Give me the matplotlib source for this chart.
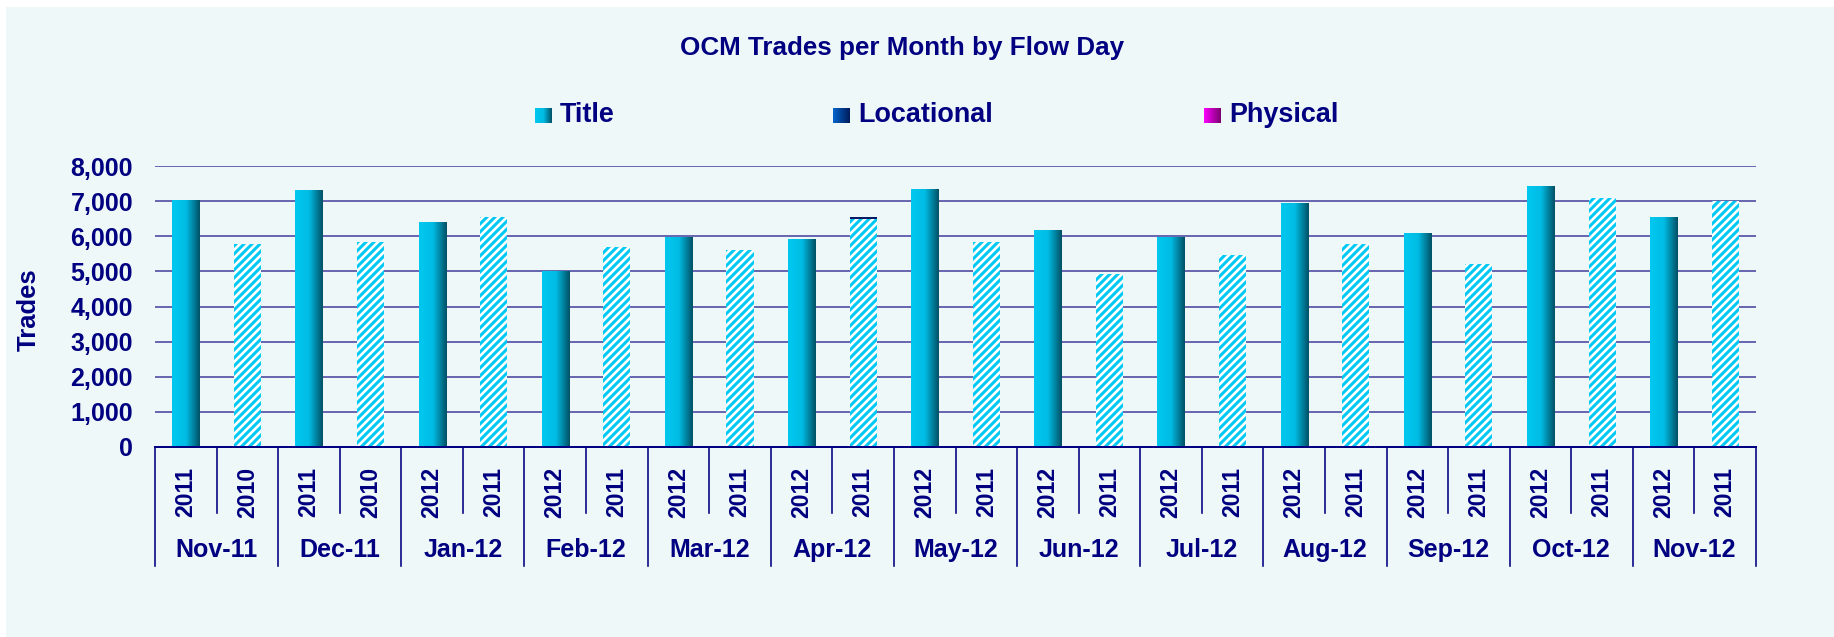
import numpy as np
import matplotlib
matplotlib.use("Agg")
import matplotlib.pyplot as plt
import matplotlib.transforms as mtransforms
from matplotlib.colors import LinearSegmentedColormap
from matplotlib.patches import Rectangle
from matplotlib.ticker import FuncFormatter

# data
months = ['Nov-11', 'Dec-11', 'Jan-12', 'Feb-12', 'Mar-12', 'Apr-12', 'May-12',
          'Jun-12', 'Jul-12', 'Aug-12', 'Sep-12', 'Oct-12', 'Nov-12']
year_now = ['2011', '2011', '2012', '2012', '2012', '2012', '2012',
            '2012', '2012', '2012', '2012', '2012', '2012']
year_prev = ['2010', '2010', '2011', '2011', '2011', '2011', '2011',
             '2011', '2011', '2011', '2011', '2011', '2011']
title_now = [7010, 7290, 6380, 5010, 5970, 5900, 7320, 6150, 5970, 6920, 6070, 7410, 6520]
title_prev = [5775, 5830, 6550, 5700, 5610, 6500, 5840, 4930, 5460, 5780, 5205, 7085, 7010]
locational_now = [0] * 13
locational_prev = [0, 0, 0, 0, 0, 55, 0, 0, 0, 0, 0, 0, 0]
physical_now = [0] * 13
physical_prev = [0] * 13

navy = '#000080'
W, H, DPI = 1834, 637, 144

plt.rcParams['font.family'] = ['Liberation Sans', 'DejaVu Sans']
plt.rcParams['font.weight'] = 'bold'
plt.rcParams['hatch.linewidth'] = 1.5

fig = plt.figure(figsize=(W / DPI, H / DPI), dpi=DPI)
fig.patch.set_facecolor('white')
fig.patches.append(Rectangle((6 / W, 0), 1, 1 - 7 / H, transform=fig.transFigure,
                             facecolor='#EFF8F9', edgecolor='none', zorder=-10))

ax = fig.add_axes([155 / W, 1 - 447 / H, (1756 - 155) / W, (447 - 166) / H])
ax.set_facecolor('none')

n = len(months)
x_now = np.arange(n) * 2
x_prev = x_now + 1
w = 0.44

cmap_title = LinearSegmentedColormap.from_list('title', ['#00C8F0', '#00BCE4', '#005064'])
cmap_loc = LinearSegmentedColormap.from_list('loc', ['#0066CC', '#001A5A'])
cmap_phys = LinearSegmentedColormap.from_list('phys', ['#FF00FF', '#7A0070'])
grad = np.linspace(0, 1, 256).reshape(1, -1)

# current year: gradient bars
bars = ax.bar(x_now, title_now, w, color='#00A0C8', zorder=3)
for b in bars:
    x0 = b.get_x()
    ax.imshow(grad, cmap=cmap_title, extent=[x0, x0 + b.get_width(), 0, b.get_height()],
              aspect='auto', zorder=3.5, interpolation='bilinear')
ax.bar(x_now, locational_now, w, bottom=title_now, color='#001A66', zorder=4)

# previous year: hatched bars
ax.bar(x_prev, title_prev, w, facecolor='white', edgecolor='#00C8F5', hatch='//////',
       linewidth=0, zorder=3)
ax.bar(x_prev, locational_prev, w, bottom=title_prev, color='#001A66', zorder=4)

ax.set_xlim(-0.5, 2 * n - 0.5)
ax.set_ylim(0, 8000)
ax.set_yticks(range(0, 8001, 1000))
ax.yaxis.set_major_formatter(FuncFormatter(lambda v, p: '{:,.0f}'.format(v)))
ax.yaxis.grid(True, color='#5A5AAA', lw=0.9)
ax.set_axisbelow(True)
ax.tick_params(axis='y', length=0, pad=11, labelsize=12.5, labelcolor=navy)
ax.set_xticks([])
for s in ['top', 'right', 'left']:
    ax.spines[s].set_visible(False)
ax.spines['bottom'].set_color(navy)
ax.spines['bottom'].set_linewidth(1.0)
ax.spines['bottom'].set_zorder(5)

# two-level category axis
trans = mtransforms.blended_transform_factory(ax.transData, ax.transAxes)
for k in range(n + 1):
    ax.plot([2 * k - 0.5] * 2, [0, -0.4235], transform=trans, clip_on=False, color=navy, lw=0.8)
for k in range(n):
    ax.plot([2 * k + 0.5] * 2, [0, -0.235], transform=trans, clip_on=False, color=navy, lw=0.8)
    ax.text(x_now[k], -0.16, year_now[k], rotation=90, ha='center', va='center',
            transform=trans, fontsize=11.5, color=navy)
    ax.text(x_prev[k], -0.16, year_prev[k], rotation=90, ha='center', va='center',
            transform=trans, fontsize=11.5, color=navy)
    ax.text(2 * k + 0.5, -0.367, months[k], ha='center', va='center',
            transform=trans, fontsize=12.5, color=navy)

fig.text(902 / W, 1 - 48 / H, 'OCM Trades per Month by Flow Day', ha='center', va='center',
         fontsize=13, color=navy)
fig.text(29 / W, 1 - 310 / H, 'Trades', rotation=90, ha='center', va='center',
         fontsize=12.8, color=navy)

# legend
legend_items = [('Title', cmap_title, 535), ('Locational', cmap_loc, 833), ('Physical', cmap_phys, 1204)]
for label, cm, px in legend_items:
    lax = fig.add_axes([px / W, 1 - 123 / H, 17 / W, 15 / H])
    lax.imshow(grad, cmap=cm, aspect='auto')
    lax.axis('off')
    fig.text((px + 25) / W, 1 - 115.5 / H, label, ha='left', va='center', fontsize=13.5, color=navy)

fig.savefig('out.png', dpi=DPI)
